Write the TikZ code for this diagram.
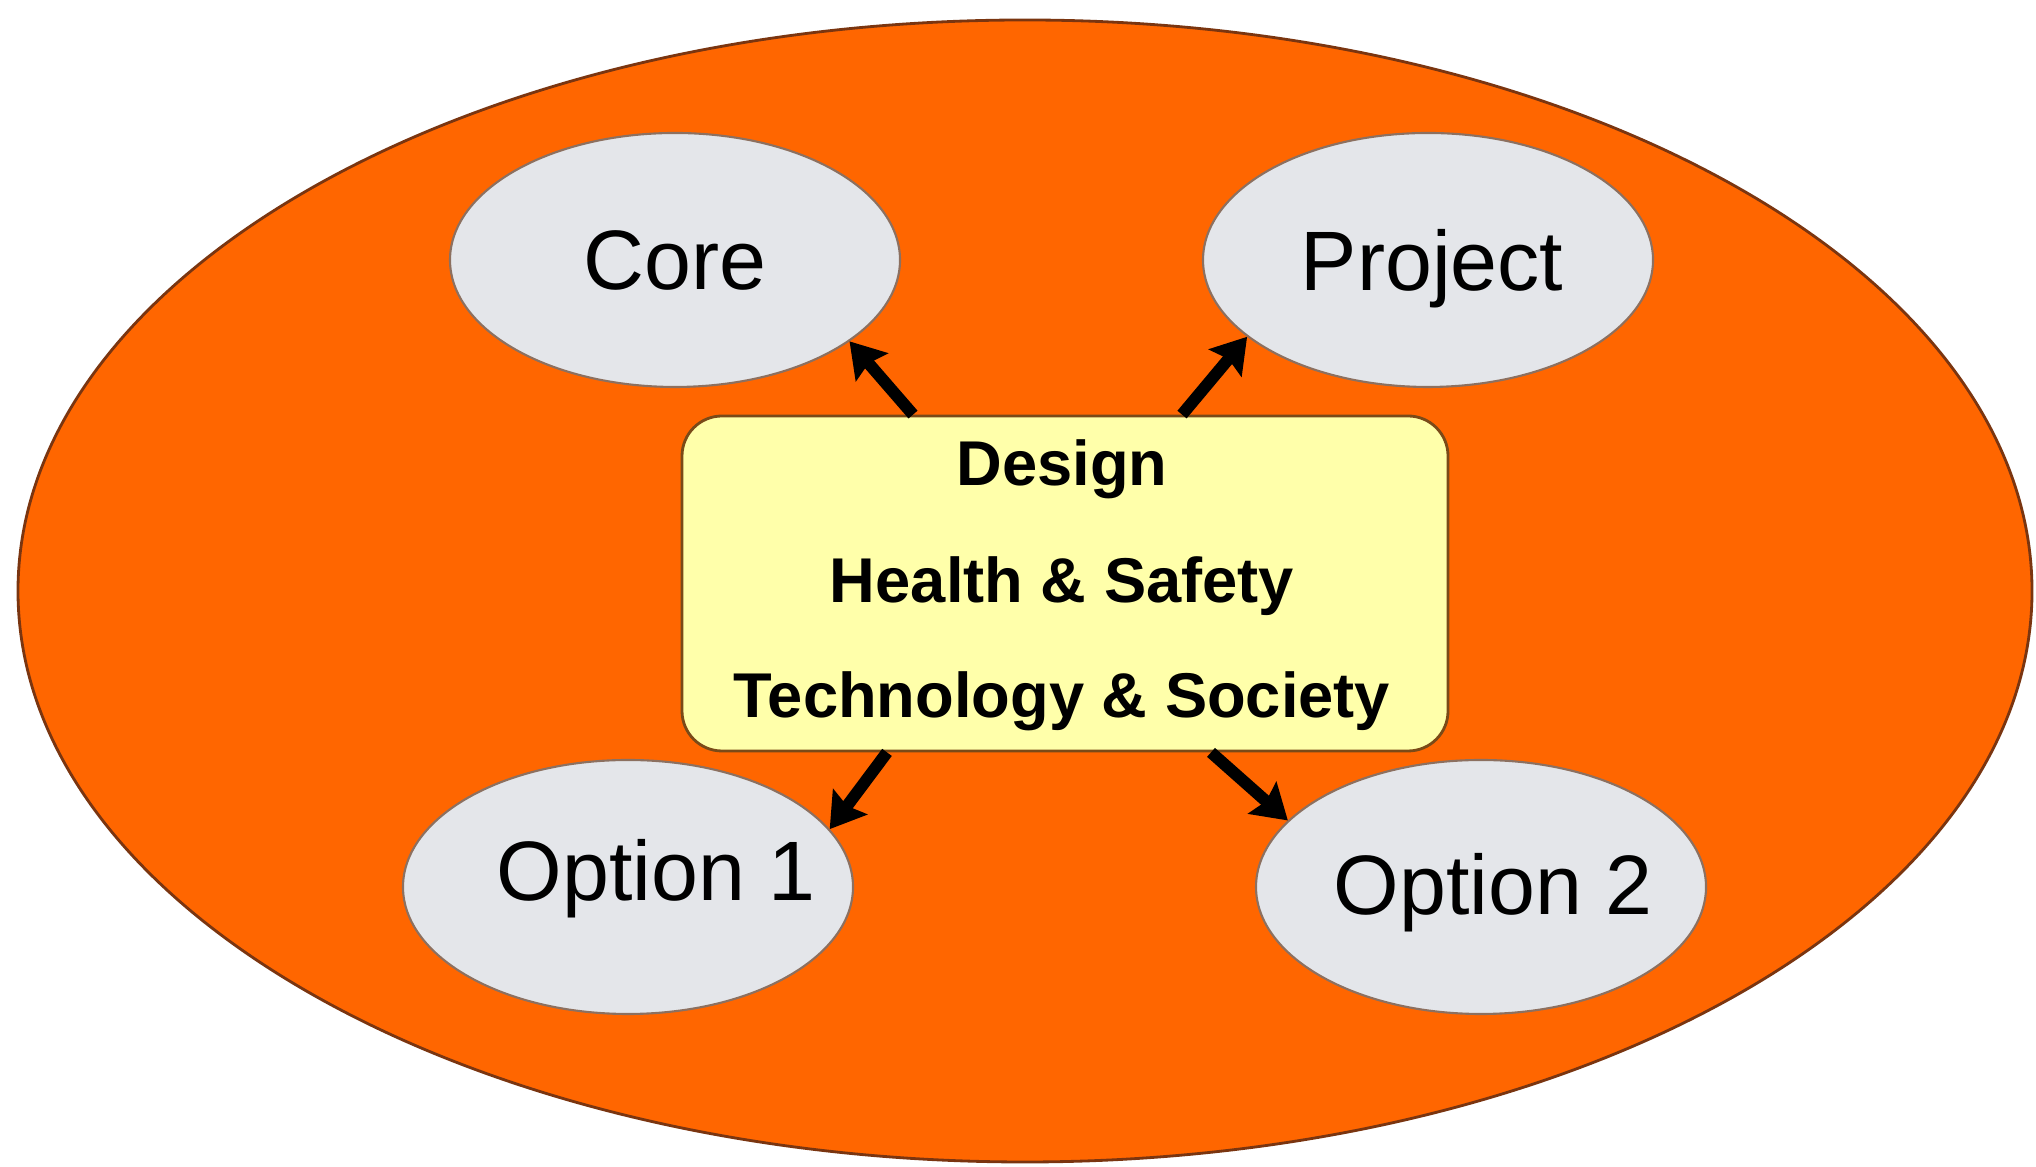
\documentclass[tikz,border=0pt]{standalone}
\usepackage{fontspec}
\setmainfont{Liberation Sans}
\usetikzlibrary{shapes.geometric,arrows.meta}
\definecolor{bigorange}{HTML}{FF6600}
\definecolor{bigedge}{HTML}{7A3510}
\definecolor{greyfill}{HTML}{E4E6EA}
\definecolor{greyedge}{HTML}{8C7060}
\definecolor{boxfill}{HTML}{FFFFAA}
\definecolor{boxedge}{HTML}{7A4A18}
\tikzset{
  topic/.style={ellipse, draw=greyedge, line width=0.6pt, fill=greyfill,
    minimum width=4.5cm, minimum height=2.54cm, inner sep=0pt},
  topiclabel/.style={font=\fontsize{24}{28}\selectfont, text=black, inner sep=0pt},
  centre/.style={rectangle, rounded corners=0.4cm, draw=boxedge, line width=0.8pt,
    fill=boxfill, minimum width=7.66cm, minimum height=3.35cm},
  centretext/.style={font=\bfseries\fontsize{18}{21}\selectfont, text=black, inner sep=0pt},
  arr/.style={line width=3.4pt, -{Stealth[length=0.34cm,width=0.42cm,inset=0.05cm]}, black}
}
\begin{document}
\begin{tikzpicture}
\useasboundingbox (0,0) rectangle (20.36,11.67);
\node[ellipse, draw=bigedge, line width=0.8pt, fill=bigorange,
  minimum width=20.14cm, minimum height=11.42cm, inner sep=0pt] (outer) at (10.25,5.76) {};
\node[topic] (core) at (6.75,9.07) {};
\node[topic] (project) at (14.28,9.07) {};
\node[topic] (opt1) at (6.28,2.80) {};
\node[topic] (opt2) at (14.81,2.80) {};
\node[topiclabel] (coret) at (6.75,9.07) {Core};
\node[topiclabel] (projectt) at (14.32,8.98) {Project};
\node[topiclabel] (opt1t) at (6.56,2.88) {Option 1};
\node[topiclabel] (opt2t) at (14.93,2.74) {Option 2};
\node[centre] (box) at (10.65,5.835) {};
\node[centretext] (t1) at (10.62,6.98) {Design};
\node[centretext] (t2) at (10.62,5.81) {Health \& Safety};
\node[centretext] (t3) at (10.62,4.66) {Technology \& Society};
\draw[arr] ([xshift=-1.52cm]box.north) -- (core.-25);
\draw[arr] ([xshift=1.17cm]box.north) -- (project.203);
\draw[arr] ([xshift=-1.78cm]box.south) -- (opt1.16);
\draw[arr] ([xshift=1.46cm]box.south) -- (opt2.161);
\end{tikzpicture}
\end{document}
